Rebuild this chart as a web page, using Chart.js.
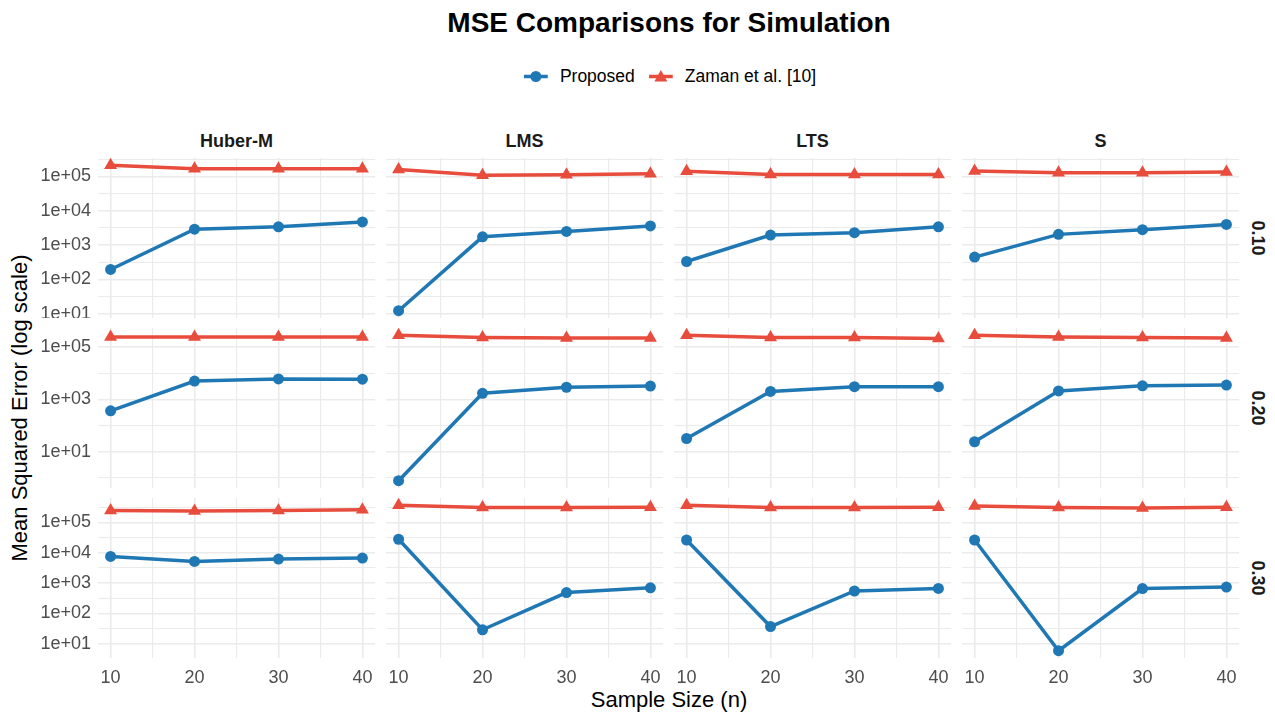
<!DOCTYPE html>
<html>
<head>
<meta charset="utf-8">
<title>MSE Comparisons for Simulation</title>
<script src="https://cdn.jsdelivr.net/npm/chart.js@4.4.1/dist/chart.umd.min.js"></script>
<style>
    html, body { margin: 0; padding: 0; background: #fff; }
    body {
        width: 1275px;
        height: 713px;
        position: relative;
        overflow: hidden;
        font-family: 'Liberation Sans', Arial, sans-serif;
        color: #000;
    }
    .abs { position: absolute; }
    .center { transform: translate(-50%, -50%); white-space: nowrap; }
    #title { left: 669px; top: 23px; font-size: 28px; font-weight: bold; }
    #legend { left: 670px; top: 76px; display: flex; align-items: center; font-size: 17.5px; }
    #legend .item { display: flex; align-items: center; margin: 0 7px; }
    #legend svg { margin-right: 12px; }
    .strip { font-size: 18px; font-weight: bold; color: #1a1a1a; }
    .rowlab { font-size: 18px; font-weight: bold; color: #1a1a1a; transform: translate(-50%, -50%) rotate(90deg); white-space: nowrap; }
    #ytitle { left: 20px; top: 408px; font-size: 22px; transform: translate(-50%, -50%) rotate(-90deg); white-space: nowrap; }
    #xtitle { left: 669px; top: 700px; font-size: 22px; }
</style>
</head>
<body>
<div id="title" class="abs center">MSE Comparisons for Simulation</div>
<div id="legend" class="abs center">
    <div class="item">
        <svg width="24" height="14"><line x1="0" y1="7" x2="24" y2="7" stroke="#1F78B4" stroke-width="3.5"/><circle cx="12" cy="7" r="5.5" fill="#1F78B4"/></svg>
        <span>Proposed</span>
    </div>
    <div class="item">
        <svg width="24" height="14"><line x1="0" y1="7" x2="24" y2="7" stroke="#E74C3C" stroke-width="3.5"/><polygon points="12,0.5 18.5,12 5.5,12" fill="#E74C3C"/></svg>
        <span>Zaman et al. [10]</span>
    </div>
</div>
<div id="ytitle" class="abs">Mean Squared Error (log scale)</div>
<div id="xtitle" class="abs center">Sample Size (n)</div>
<div id="grid"></div>

<script>
const sampleSizes = [10, 20, 30, 40];
const estimators = ['Huber-M', 'LMS', 'LTS', 'S'];
const contaminationLevels = ['0.10', '0.20', '0.30'];

// MSE per estimator, one inner list per contamination level (0.10, 0.20, 0.30)
const proposedHuber = [[195, 2900, 3400, 4700], [363, 5000, 6000, 5900], [7600, 5200, 6200, 6700]];
const proposedLMS = [[12.3, 1740, 2500, 3600], [0.78, 1700, 2900, 3200], [28000, 29, 490, 700]];
const proposedLTS = [[333, 1950, 2300, 3400], [32, 2000, 3050, 3050], [26500, 37, 550, 670]];
const proposedS = [[447, 2050, 2800, 4000], [24, 2100, 3300, 3500], [26500, 5.9, 660, 740]];

const zamanHuber = [[210000, 167000, 165000, 165000], [240000, 240000, 240000, 240000], [250000, 240000, 250000, 265000]];
const zamanLMS = [[157000, 107000, 112000, 120000], [280000, 230000, 220000, 220000], [370000, 310000, 310000, 320000]];
const zamanLTS = [[140000, 114000, 114000, 114000], [280000, 230000, 230000, 210000], [370000, 310000, 310000, 320000]];
const zamanS = [[143000, 128000, 128000, 133000], [280000, 240000, 230000, 220000], [350000, 310000, 300000, 320000]];

const xBreaks = [10, 20, 30, 40];
const yBreaks = [
    [10, 100, 1000, 10000, 100000],
    [10, 1000, 100000],
    [10, 100, 1000, 10000, 100000]
];

const BLUE = '#1F78B4';
const RED = '#E74C3C';
const GRID = '#EBEBEB';
const TICK_COLOR = '#4D4D4D';

const PANEL_W = 277;
const PANEL_H = 160;
const colLeft = [98, 386, 674, 962];
const rowTop = [158, 328, 498];
const Y_AXIS_W = 72;
const X_AXIS_H = 34;

const panelSeries = [
    [proposedHuber, zamanHuber],
    [proposedLMS, zamanLMS],
    [proposedLTS, zamanLTS],
    [proposedS, zamanS]
];

// ggplot-style range: 5% expansion in log space, shared across a row
function rowRange(row) {
    const logs = [];
    panelSeries.forEach(function(pair) {
        pair.forEach(function(series) {
            series[row].forEach(function(v) { logs.push(Math.log10(v)); });
        });
    });
    const lo = Math.min.apply(null, logs);
    const hi = Math.max.apply(null, logs);
    const pad = (hi - lo) * 0.05;
    return { min: Math.pow(10, lo - pad), max: Math.pow(10, hi + pad) };
}

function yTickValues(row, range) {
    const logs = yBreaks[row].map(Math.log10);
    const half = (logs[1] - logs[0]) / 2;
    const lmin = Math.log10(range.min), lmax = Math.log10(range.max);
    const out = [];
    for (let l = logs[0] - half; l <= logs[logs.length - 1] + half + 1e-9; l += half) {
        if (l >= lmin - 1e-9 && l <= lmax + 1e-9) out.push(Math.pow(10, l));
    }
    return out;
}

function isYMajor(row, v) {
    return yBreaks[row].some(function(b) {
        return Math.abs(Math.log10(b) - Math.log10(v)) < 1e-6;
    });
}

function sci(v) {
    const e = Math.round(Math.log10(v));
    return '1e' + (e < 0 ? '-' : '+') + String(Math.abs(e)).padStart(2, '0');
}

const xMin = xBreaks[0] - (xBreaks[xBreaks.length - 1] - xBreaks[0]) * 0.05;
const xMax = xBreaks[xBreaks.length - 1] + (xBreaks[xBreaks.length - 1] - xBreaks[0]) * 0.05;
const xTickValues = [];
xBreaks.forEach(function(b, i) {
    xTickValues.push(b);
    if (i < xBreaks.length - 1) xTickValues.push((b + xBreaks[i + 1]) / 2);
});

function toPoints(values) {
    return sampleSizes.map(function(x, i) { return { x: x, y: values[i] }; });
}

function makePanel(row, col) {
    const showY = col === 0;
    const showX = row === contaminationLevels.length - 1;
    const yW = showY ? Y_AXIS_W : 0;
    const xH = showX ? X_AXIS_H : 0;
    const range = rowRange(row);
    const yTicks = yTickValues(row, range);

    const wrap = document.createElement('div');
    wrap.className = 'abs';
    wrap.style.left = (colLeft[col] - yW) + 'px';
    wrap.style.top = rowTop[row] + 'px';
    const canvas = document.createElement('canvas');
    canvas.width = PANEL_W + yW;
    canvas.height = PANEL_H + xH;
    wrap.appendChild(canvas);
    document.getElementById('grid').appendChild(wrap);

    const proposed = panelSeries[col][0][row];
    const zaman = panelSeries[col][1][row];

    new Chart(canvas, {
        type: 'line',
        data: {
            datasets: [{
                label: 'Proposed',
                data: toPoints(proposed),
                borderColor: BLUE,
                backgroundColor: BLUE,
                borderWidth: 3.5,
                pointStyle: 'circle',
                pointRadius: 5.5,
                pointBorderWidth: 0,
                tension: 0,
                clip: false
            }, {
                label: 'Zaman et al. [10]',
                data: toPoints(zaman),
                borderColor: RED,
                backgroundColor: RED,
                borderWidth: 3.5,
                pointStyle: 'triangle',
                pointRadius: 7.5,
                pointBorderWidth: 0,
                tension: 0,
                clip: false
            }]
        },
        options: {
            responsive: false,
            animation: false,
            events: [],
            layout: { autoPadding: false, padding: 0 },
            plugins: {
                legend: { display: false },
                tooltip: { enabled: false }
            },
            scales: {
                x: {
                    type: 'linear',
                    min: xMin,
                    max: xMax,
                    afterBuildTicks: function(scale) {
                        scale.ticks = xTickValues.map(function(v) { return { value: v }; });
                    },
                    // fixed axis size so every panel lines up exactly
                    afterFit: function(scale) {
                        scale.height = xH;
                        scale.paddingLeft = 0;
                        scale.paddingRight = 0;
                    },
                    border: { display: false },
                    grid: {
                        color: GRID,
                        drawTicks: false,
                        lineWidth: function(ctx) {
                            return ctx.tick && xBreaks.includes(ctx.tick.value) ? 1.6 : 1.1;
                        }
                    },
                    ticks: {
                        display: showX,
                        autoSkip: false,
                        maxRotation: 0,
                        padding: 9,
                        color: TICK_COLOR,
                        font: { family: "'Liberation Sans', Arial, sans-serif", size: 18 },
                        callback: function(v) { return xBreaks.includes(v) ? String(v) : ''; }
                    }
                },
                y: {
                    type: 'logarithmic',
                    min: range.min,
                    max: range.max,
                    afterBuildTicks: function(scale) {
                        scale.ticks = yTicks.map(function(v) { return { value: v }; });
                    },
                    afterFit: function(scale) {
                        scale.width = yW;
                        scale.paddingTop = 0;
                        scale.paddingBottom = 0;
                    },
                    border: { display: false },
                    grid: {
                        color: GRID,
                        drawTicks: false,
                        lineWidth: function(ctx) {
                            return ctx.tick && isYMajor(row, ctx.tick.value) ? 1.6 : 1.1;
                        }
                    },
                    ticks: {
                        display: showY,
                        autoSkip: false,
                        padding: 7,
                        color: TICK_COLOR,
                        font: { family: "'Liberation Sans', Arial, sans-serif", size: 18 },
                        callback: function(v) { return isYMajor(row, v) ? sci(v) : ''; }
                    }
                }
            }
        }
    });
}

function buildLabels() {
    const grid = document.getElementById('grid');
    estimators.forEach(function(name, col) {
        const el = document.createElement('div');
        el.className = 'abs center strip';
        el.style.left = (colLeft[col] + PANEL_W / 2) + 'px';
        el.style.top = '141px';
        el.textContent = name;
        grid.appendChild(el);
    });
    contaminationLevels.forEach(function(level, row) {
        const el = document.createElement('div');
        el.className = 'abs rowlab';
        el.style.left = '1257px';
        el.style.top = (rowTop[row] + PANEL_H / 2) + 'px';
        el.textContent = level;
        grid.appendChild(el);
    });
}

buildLabels();
contaminationLevels.forEach(function(level, row) {
    estimators.forEach(function(name, col) {
        makePanel(row, col);
    });
});
</script>
</body>
</html>
